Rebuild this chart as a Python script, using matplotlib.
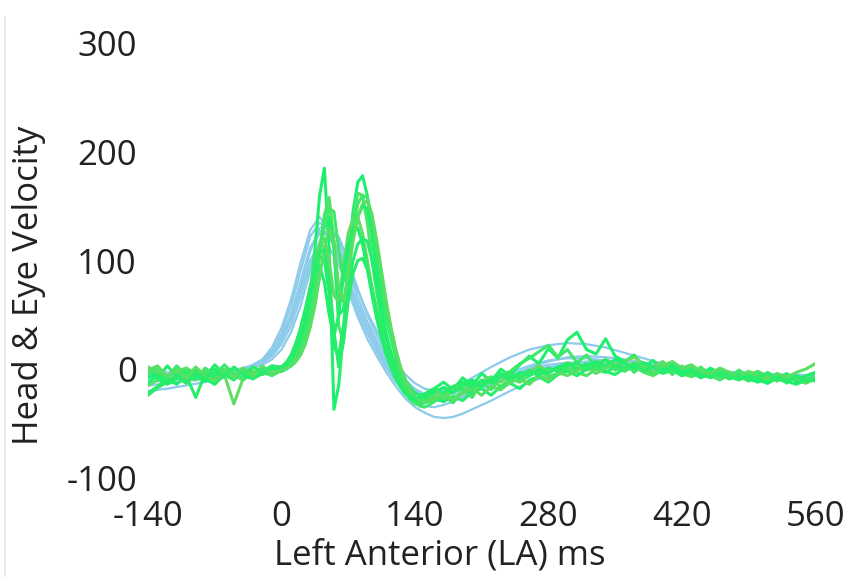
import matplotlib
matplotlib.use('Agg')
import matplotlib.pyplot as plt
from matplotlib import rc
from matplotlib.lines import Line2D

rc('font', **{'family': 'sans-serif', 'sans-serif': ['Open Sans', 'DejaVu Sans'], 'size': 25})
rc('axes', unicode_minus=False)

# sample times (ms)
t_head = [-140, -120, -100, -80, -60, -40] + list(range(-30, 200, 10)) + list(range(200, 561, 20))
t_eye = list(range(-140, 0, 10)) + list(range(0, 160, 5)) + list(range(160, 561, 10))

# head velocity traces
head_1 = [-5, -4, -4, -3, -2, 0,
          3, 7, 14, 26, 46, 76, 108, 130, 133, 118, 92, 66, 44, 26, 11, -2, -12, -19, -24, -27, -28, -27, -24,
          -21, -15, -8, -2, 2, 4, 4, 3, 2, 0, -1, -2, -3, -4, -5, -6, -7, -7, -8]
head_2 = [-20, -18, -15, -12, -8, -3,
          2, 9, 20, 38, 64, 98, 128, 140, 128, 100, 72, 48, 28, 12, -3, -16, -27, -35, -40, -44, -45, -44, -41,
          -37, -29, -20, -12, -6, -2, 0, 1, 0, -1, -2, -3, -4, -5, -6, -7, -8, -9, -10]
head_3 = [-8, -6, -5, -4, -2, 1,
          4, 9, 17, 30, 50, 80, 110, 125, 124, 108, 84, 60, 40, 22, 7, -6, -15, -21, -24, -24, -22, -18, -13,
          -8, 2, 11, 18, 22, 24, 23, 20, 15, 10, 5, 1, -2, -4, -5, -6, -6, -7, -7]
head_4 = [-3, -3, -2, -2, -1, 0,
          1, 4, 9, 18, 34, 58, 90, 118, 130, 122, 100, 74, 50, 31, 15, 1, -10, -18, -23, -26, -27, -26, -23,
          -20, -14, -8, -3, 1, 5, 7, 8, 7, 5, 3, 1, 0, -2, -3, -5, -6, -7, -8]
head_5 = [-12, -10, -9, -7, -5, -2,
          2, 7, 15, 29, 50, 80, 112, 127, 126, 108, 82, 58, 38, 20, 4, -10, -22, -30, -34, -35, -33, -30, -26,
          -22, -14, -6, 1, 7, 11, 12, 11, 9, 6, 3, 1, -1, -3, -4, -5, -6, -6, -7]
head_6 = [-6, -5, -5, -4, -3, -1,
          2, 6, 12, 23, 40, 66, 96, 116, 120, 110, 92, 72, 52, 35, 20, 6, -5, -13, -18, -20, -20, -19, -17,
          -15, -11, -7, -3, 0, 2, 3, 3, 2, 1, 0, -1, -2, -3, -4, -5, -6, -6, -7]
head_7 = [-15, -13, -11, -9, -6, -2,
          2, 8, 17, 33, 58, 90, 122, 135, 128, 106, 78, 53, 33, 16, 1, -12, -21, -27, -30, -30, -28, -25, -21,
          -17, -10, -3, 3, 8, 10, 10, 8, 5, 2, 0, -2, -4, -5, -6, -7, -8, -8, -9]
head_8 = [-4, -4, -3, -3, -2, 0,
          3, 8, 15, 27, 46, 72, 100, 115, 112, 96, 74, 52, 34, 18, 4, -8, -16, -21, -24, -25, -24, -22, -19,
          -16, -11, -5, 0, 4, 6, 6, 5, 4, 2, 1, 0, -1, -2, -3, -4, -5, -5, -6]

# eye velocity traces
eye_1 = [-8, -3, -10, -6, 1, -4, -9, -14, -5, -8, 0, -6, -2, 3,
         -2, 1, 4, 10, 22, 40, 68, 110, 160, 185, 110, -37, -15, 35, 95, 145, 172, 178, 160, 122, 85, 55, 32, 15,
         2, -8, -16, -22, -27, -30, -29, -26,
         -22, -17, -20, -13, -10, -15, -9, -4, -8, -6, -1, -5, -3, 2, -2, 1, 5, 0, -3, 2, 6, 1, -2, -5, 0, 3,
         -2, -6, -4, 0, -3, -8, -5, -9, -12, -6, -8, -11, -7, -12, -8]
eye_2 = [-15, -10, -13, -5, -8, -3, -9, -4, 0, -6, -10, -3, -5, 1,
         0, 3, 6, 12, 20, 32, 50, 78, 110, 142, 158, 118, 40, 25, 80, 135, 162, 160, 135, 100, 70, 45, 25, 8,
         -5, -15, -22, -28, -32, -33, -30, -27,
         -24, -28, -20, -17, -23, -15, -11, -16, -9, -12, -6, -2, -7, -4, 1, -3, -6, 0, 4, 1, -2, 3, -3, -6, -1, 2,
         -4, -7, -3, -6, -10, -5, -8, -4, -9, -12, -8, -5, -10, -13, -9]
eye_3 = [0, -9, 3, -6, -12, -1, -7, 4, -5, -10, 0, -7, 2, -4,
         -2, 0, 3, 7, 14, 26, 45, 72, 105, 133, 140, 110, 50, 55, 90, 120, 140, 150, 148, 125, 95, 68, 45, 28,
         12, 0, -10, -17, -22, -24, -23, -20,
         -18, -12, -19, -8, -15, -4, -11, 0, -6, 4, 12, 5, 19, 10, 27, 34, 18, 14, 28, 12, 7, 13, 2, 8, -1, 5,
         -4, 3, -6, 1, -4, -9, -1, -7, -11, -3, -9, -4, -12, -6, -3]
eye_4 = [2, -3, -6, -2, 1, -6, -2, -9, -5, -32, -8, -2, -4, -1,
         1, 5, 10, 18, 30, 48, 72, 98, 115, 120, 100, 68, 62, 95, 125, 138, 140, 125, 100, 75, 52, 33, 18, 6,
         -4, -12, -18, -23, -26, -27, -26, -23,
         -20, -24, -17, -13, -19, -11, -7, -12, -4, -8, -2, 3, -3, 1, 6, 2, -1, 5, 9, 4, 7, 11, 5, 2, 7, 0,
         -3, 2, -2, -6, -1, -4, -8, -5, -2, -7, -11, -6, -9, -12, -8]
eye_5 = [-22, -16, -9, -14, -6, -26, -4, -11, -2, -9, 1, -8, -2, 2,
         0, 4, 9, 17, 28, 44, 65, 88, 104, 100, 70, 20, 12, 40, 75, 100, 115, 120, 118, 100, 75, 50, 30, 14,
         2, -8, -16, -22, -27, -30, -31, -30,
         -27, -30, -25, -29, -21, -18, -24, -16, -13, -18, -10, -7, -12, -5, -2, -6, 0, 3, -2, -5, 1, 4, -1, 2, -4, -1,
         -6, -3, -8, -4, -1, -7, -10, -6, -9, -13, -8, -11, -14, -10, -8]
eye_6 = [-4, 1, -8, 3, -5, -10, 1, -6, 4, -4, -9, 2, -3, -6,
         -1, 1, 4, 9, 17, 30, 50, 76, 105, 132, 148, 145, 110, 82, 95, 130, 152, 160, 158, 140, 110, 78, 50, 28,
         10, -4, -15, -24, -30, -34, -35, -33,
         -30, -24, -31, -19, -26, -12, -19, -6, -2, 5, 10, 16, 22, 11, 18, 6, 13, 2, 9, -1, 7, -3, 5, -4, 4, -5,
         3, -6, 2, -7, 0, -8, -1, -10, -3, -11, -4, -13, -6, -11, -5]
eye_7 = [-12, -6, -14, -9, -2, -7, -11, -5, -4, 1, -6, -9, -4, 0,
         2, 6, 13, 24, 38, 56, 75, 90, 95, 80, 50, 30, 50, 85, 115, 128, 130, 115, 92, 68, 46, 28, 13, 1,
         -9, -17, -23, -27, -29, -28, -26, -23,
         -21, -17, -22, -15, -11, -16, -9, -5, -10, -3, -6, 0, -4, 2, 5, 0, 3, 7, 2, 9, 5, 1, 6, 2, -2, 3,
         -3, 0, -5, -2, -7, -3, -9, -6, -10, -13, -7, -10, -6, -9, -11]
eye_8 = [-1, 3, -7, 0, -9, 2, -6, -11, -1, -8, 1, -7, 3, -4,
         -1, 1, 3, 7, 13, 23, 38, 58, 85, 112, 130, 118, 75, 62, 88, 118, 140, 152, 155, 142, 118, 90, 62, 38,
         18, 2, -10, -19, -25, -29, -30, -29,
         -27, -24, -28, -22, -18, -24, -16, -19, -12, -9, -14, -6, -10, -3, -6, -1, 2, -4, 1, 5, 0, 6, 2, -3, 3, 7,
         1, 4, -2, -4, 1, -3, -7, -2, -6, -9, -4, -8, -3, 0, 5]
eye_9 = [-24, -17, -12, -7, -13, -4, -9, 0, -7, 2, -5, 2, -3, 3,
         2, 6, 12, 21, 34, 52, 75, 96, 108, 110, 85, 35, 2, 25, 62, 88, 100, 102, 92, 74, 54, 36, 20, 6,
         -6, -15, -21, -25, -27, -26, -24, -21,
         -18, -22, -16, -12, -17, -10, -13, -7, -4, -9, -2, -6, 1, -2, 3, 6, 0, 4, 8, 3, 1, 5, -1, 2, -3, 0,
         -6, -2, -5, -8, -4, -9, -6, -11, -7, -4, -9, -12, -7, -11, -9]

head_traces = [head_1, head_2, head_3, head_4, head_5, head_6, head_7, head_8]
eye_traces = [eye_1, eye_2, eye_3, eye_4, eye_5, eye_6, eye_7, eye_8, eye_9]
eye_colors = ['#1ef06e', '#4ee466', '#1ef06e', '#62dc62', '#22ee6c', '#3ee868', '#1ef06e', '#58e064', '#2aec6a']

xticks = [-140, 0, 140, 280, 420, 560]
yticks = [-100, 0, 100, 200, 300]

fig = plt.figure(figsize=(8.51, 5.77), dpi=100)
ax = fig.add_axes([0.174, 0.172, 0.784, 0.753])

for tr in head_traces:
    ax.plot(t_head, tr, color='#8ccbea', lw=1.6, solid_joinstyle='round')
for tr, c in zip(eye_traces, eye_colors):
    ax.plot(t_eye, tr, color=c, lw=2.2, solid_joinstyle='round')

ax.set_xlim(-140, 560)
ax.set_ylim(-100, 300)
ax.set_xticks(xticks)
ax.set_yticks(yticks)
ax.tick_params(axis='both', length=0, labelcolor='#222222')
ax.tick_params(axis='x', pad=16)
ax.tick_params(axis='y', pad=8)
for s in ax.spines.values():
    s.set_visible(False)

fig.text(440 / 851, 1 - 555 / 577, 'Left Anterior (LA) ms', ha='center', va='center', color='#222222')
fig.text(29 / 851, 1 - 285 / 577, 'Head & Eye Velocity', ha='center', va='center', rotation=90, color='#222222')

# faint window edge on the left
fig.add_artist(Line2D([0.006, 0.006], [0.0, 0.97], color='#e6e6e6', lw=1.2))

plt.savefig('out.png', dpi=100)
